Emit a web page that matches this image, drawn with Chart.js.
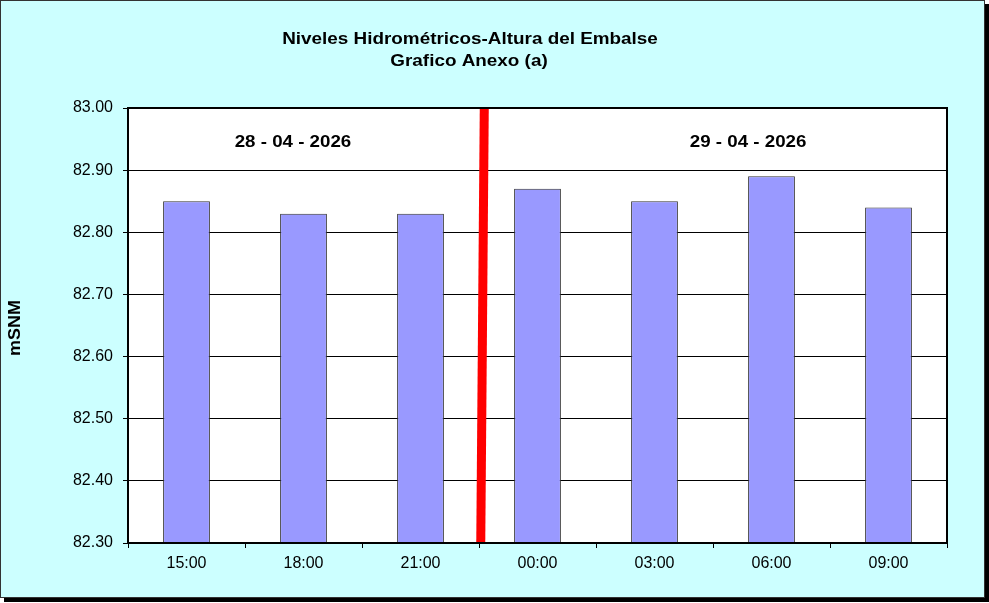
<!DOCTYPE html>
<html><head><meta charset="utf-8">
<script src="https://cdn.jsdelivr.net/npm/chart.js@4"></script>
<style>
html,body{margin:0;padding:0;background:#fff;}
#frame{position:absolute;left:0;top:0;width:985px;height:598px;box-sizing:border-box;background:#CCFFFF;border:1px solid #333;box-shadow:4px 4px 0 #000;}
#c{position:absolute;left:0;top:0;}
</style></head><body>
<div id="frame"></div>
<canvas id="c" width="989" height="603"></canvas>
<script>
// ---- data ----
const categories = ['15:00','18:00','21:00','00:00','03:00','06:00','09:00'];
const levels = [82.85, 82.83, 82.83, 82.87, 82.85, 82.89, 82.84];
const yTickValues = [82.30, 82.40, 82.50, 82.60, 82.70, 82.80, 82.90, 83.00];
const titleLines = ['Niveles Hidrométricos-Altura del Embalse', 'Grafico Anexo (a)'];
const yAxisTitle = 'mSNM';
const dayLabels = ['28 - 04 - 2026', '29 - 04 - 2026'];

// ---- placement of annotations (category-index units / value units) ----
const dayLabelIndex = [0.91, 4.8];
const dayLabelValue = 82.945;
const dayChangeTopIndex = 2.545, dayChangeBottomIndex = 2.515;

const FONT = '"Liberation Sans", Arial, sans-serif';
Chart.defaults.font.family = FONT;
Chart.defaults.color = '#000';

function idxToPx(x, v) {
  const i = Math.floor(v), f = v - i;
  const a = x.getPixelForValue(i), b = x.getPixelForValue(i + 1);
  return a + f * (b - a);
}
function stretchedText(ctx, text, x, y, scaleX) {
  ctx.save();
  ctx.translate(x, y);
  ctx.scale(scaleX, 1);
  ctx.fillText(text, 0, 0);
  ctx.restore();
}

const overlay = {
  id: 'overlay',
  beforeDraw(chart) {
    const ctx = chart.ctx, ca = chart.chartArea;
    ctx.save();
    ctx.fillStyle = '#FFFFFF';
    ctx.fillRect(ca.left, ca.top, ca.right - ca.left, ca.bottom - ca.top);
    ctx.restore();
  },
  afterDatasetsDraw(chart) {
    const ctx = chart.ctx, ca = chart.chartArea;
    const x = chart.scales.x, y = chart.scales.y;
    // red day-change line
    ctx.save();
    ctx.strokeStyle = '#FF0000';
    ctx.lineWidth = 9;
    ctx.beginPath();
    ctx.moveTo(idxToPx(x, dayChangeTopIndex), y.getPixelForValue(y.max));
    ctx.lineTo(idxToPx(x, dayChangeBottomIndex), y.getPixelForValue(y.min));
    ctx.stroke();
    // plot-area frame
    ctx.strokeStyle = '#000';
    ctx.lineWidth = 2;
    ctx.strokeRect(ca.left, ca.top, ca.right - ca.left, ca.bottom - ca.top);
    // day labels
    ctx.fillStyle = '#000';
    ctx.font = 'bold 16px ' + FONT;
    ctx.textAlign = 'center';
    ctx.textBaseline = 'middle';
    dayLabels.forEach((t, k) => {
      stretchedText(ctx, t, idxToPx(x, dayLabelIndex[k]), y.getPixelForValue(dayLabelValue), 1.17);
    });
    ctx.restore();
  },
  afterDraw(chart) {
    const ctx = chart.ctx;
    ctx.save();
    ctx.fillStyle = '#000';
    ctx.font = 'bold 16px ' + FONT;
    ctx.textAlign = 'center';
    ctx.textBaseline = 'alphabetic';
    stretchedText(ctx, titleLines[0], 470, 44, 1.18);
    stretchedText(ctx, titleLines[1], 469, 66, 1.18);
    // y axis title
    ctx.save();
    ctx.translate(16, 328);
    ctx.rotate(-Math.PI / 2);
    ctx.scale(1.12, 1);
    ctx.textBaseline = 'middle';
    ctx.fillText(yAxisTitle, 0, 0);
    ctx.restore();
    ctx.restore();
  }
};

new Chart(document.getElementById('c'), {
  type: 'bar',
  data: {
    labels: categories,
    datasets: [{
      data: levels,
      backgroundColor: '#9999FF',
      borderColor: '#333333',
      borderWidth: 1,
      barPercentage: 0.4,
      categoryPercentage: 1.0
    }]
  },
  options: {
    responsive: false,
    animation: false,
    layout: { padding: { top: 108, right: 42, left: 0, bottom: 0 } },
    plugins: { legend: { display: false }, title: { display: false }, tooltip: { enabled: false } },
    scales: {
      x: {
        offset: true,
        grid: { display: true, drawOnChartArea: false, drawTicks: true, tickLength: 5, color: '#000', offset: true },
        border: { display: true, color: '#000', width: 2 },
        ticks: { font: { size: 16 }, color: '#000', padding: 6, maxRotation: 0 },
        afterFit(s) { s.height = 60; }
      },
      y: {
        min: 82.3,
        max: 83.0,
        grid: { color: '#000', lineWidth: 1, drawTicks: true, tickLength: 5 },
        border: { display: true, color: '#000', width: 2 },
        ticks: { font: { size: 16 }, color: '#000', padding: 10, callback: v => Number(v).toFixed(2) },
        afterBuildTicks(s) { s.ticks = yTickValues.map(v => ({ value: v })); },
        afterFit(s) { s.width = 128; }
      }
    }
  },
  plugins: [overlay]
});
</script>
</body></html>
